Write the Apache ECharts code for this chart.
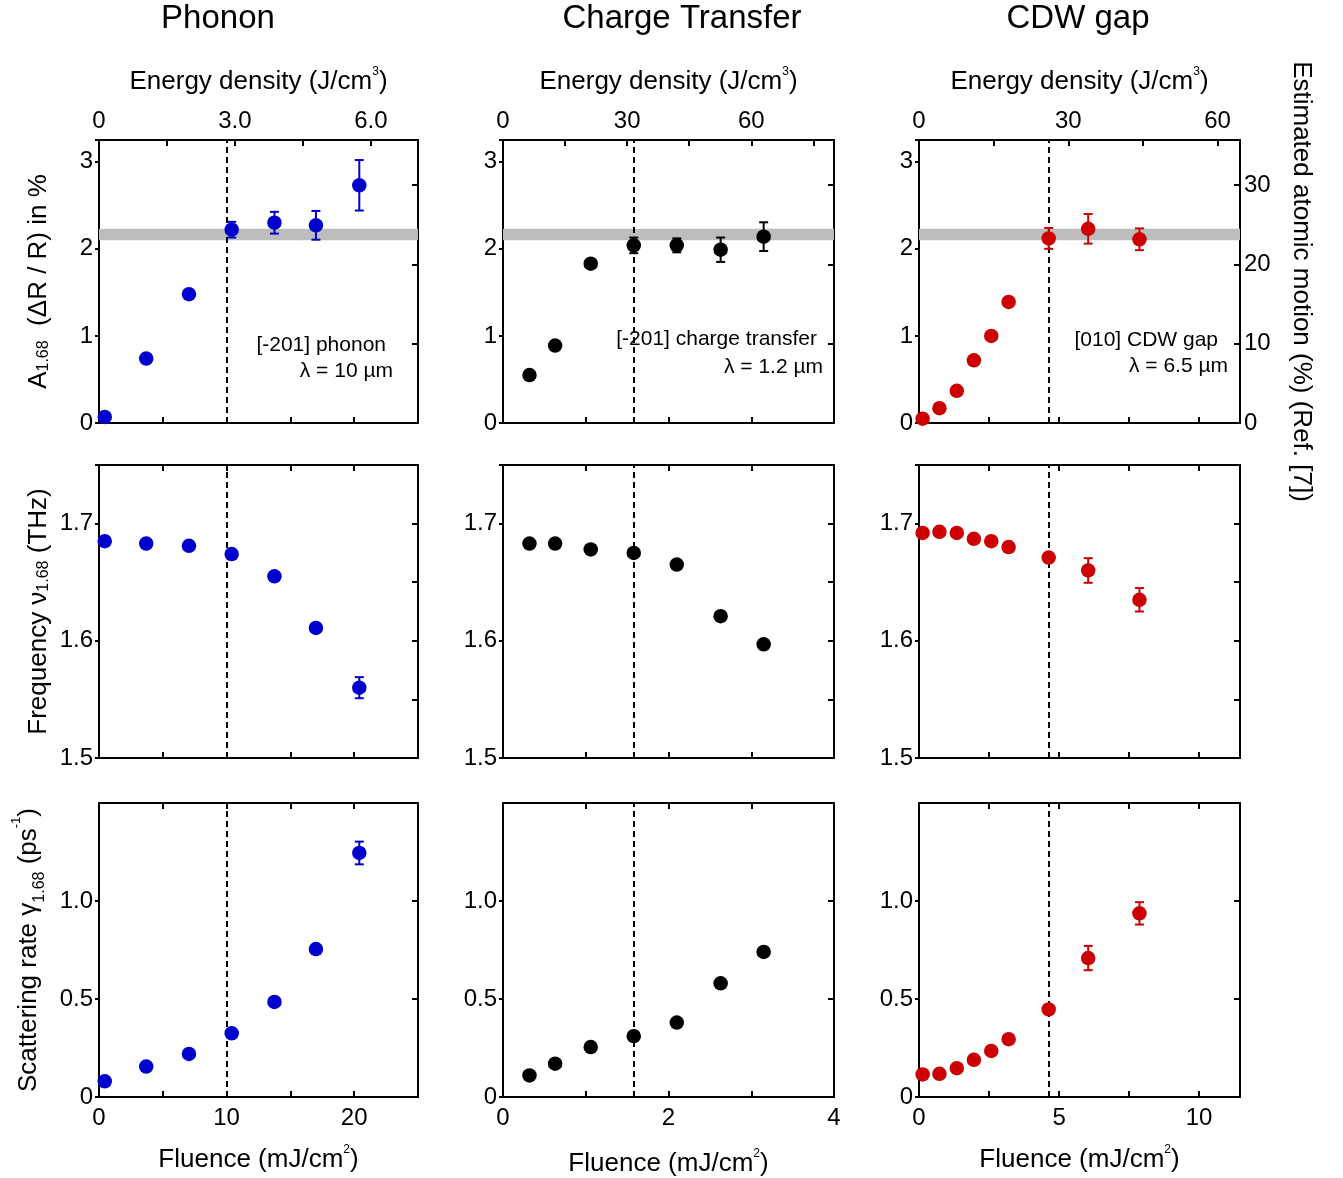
<!DOCTYPE html>
<html>
<head>
<meta charset="utf-8">
<script src="https://cdn.jsdelivr.net/npm/echarts@6/dist/echarts.min.js"></script>
<style>
html,body{margin:0;padding:0;background:#fff;}
#chart{width:1343px;height:1178px;}
</style>
</head>
<body>
<div id="chart"></div>
<script>
// ---------------- DATA ----------------
const columnTitles = ['Phonon', 'Charge Transfer', 'CDW gap'];
const sampleLabels = ['[-201] phonon', '[-201] charge transfer', '[010] CDW gap'];
const wavelengthLabels = ['λ = 10 µm', 'λ = 1.2 µm', 'λ = 6.5 µm'];

// Phonon (blue)
const fluencePhonon = [0.45, 3.7, 7.05, 10.4, 13.75, 17.0, 20.4];
const ampPhonon     = [0.07, 0.74, 1.48, 2.22, 2.30, 2.27, 2.73];
const ampPhononErr  = [0, 0, 0, 0.09, 0.125, 0.165, 0.29];
const freqPhonon    = [1.685, 1.683, 1.681, 1.674, 1.655, 1.611, 1.560];
const freqPhononErr = [0, 0, 0, 0, 0, 0, 0.009];
const ratePhonon    = [0.08, 0.155, 0.22, 0.325, 0.485, 0.755, 1.245];
const ratePhononErr = [0, 0, 0, 0, 0, 0, 0.058];

// Charge transfer (black)
const fluenceCT = [0.32, 0.63, 1.06, 1.58, 2.10, 2.63, 3.15];
const ampCT     = [0.55, 0.89, 1.83, 2.04, 2.04, 1.99, 2.14];
const ampCTErr  = [0, 0, 0, 0.09, 0.08, 0.14, 0.165];
const freqCT    = [1.683, 1.683, 1.678, 1.675, 1.665, 1.621, 1.597];
const freqCTErr = [0, 0, 0, 0, 0, 0, 0];
const rateCT    = [0.11, 0.17, 0.255, 0.31, 0.38, 0.58, 0.74];
const rateCTErr = [0, 0, 0, 0, 0, 0, 0];

// CDW gap (red)
const fluenceCDW = [0.13, 0.73, 1.35, 1.96, 2.58, 3.20, 4.63, 6.04, 7.87];
const ampCDW     = [0.05, 0.17, 0.37, 0.72, 1.00, 1.39, 2.12, 2.23, 2.11];
const ampCDWErr  = [0, 0, 0, 0, 0, 0, 0.12, 0.17, 0.125];
const freqCDW    = [1.692, 1.693, 1.692, 1.687, 1.685, 1.680, 1.671, 1.660, 1.635];
const freqCDWErr = [0, 0, 0, 0, 0, 0, 0, 0.0105, 0.01];
const rateCDW    = [0.115, 0.118, 0.147, 0.19, 0.235, 0.295, 0.447, 0.709, 0.937];
const rateCDWErr = [0, 0, 0, 0, 0, 0, 0, 0.062, 0.057];

const thresholdFluence = [10.0, 1.58, 4.64];
const saturationBand = [2.10, 2.23];

// axis ranges / ticks
const fluenceMax = [25, 4, 11.46];
const fluenceTickStep = [5, 1, 2.5];
const fluenceLabelStep = [10, 2, 5];
const energyMax = [7.04, 80, 64.5];
const energyTickStep = [1.5, 15, 15];
const energyLabelStep = [3, 30, 30];
const rowMin = [0, 1.5, 0];
const rowMax = [3.25, 1.75, 1.5];
const rowLabelStep = [1, 0.1, 0.5];
const rowRightStep = [10, 0.05, 0.5];
const motionMax = 35.7;

// ---------------- LAYOUT / STYLE ----------------
const FONT = 'Liberation Sans, Arial, Helvetica, sans-serif';
const BLUE = '#0000cc', BLACK = '#000000', RED = '#cc0000';
const colColors = [BLUE, BLACK, RED];
const GRID_L = [99, 503, 919], GRID_W = [319, 331, 321];
const GRID_T = [140, 465, 803], GRID_H = [283, 293, 294];
const TICK_FS = 24, NAME_FS = 26;

const colData = [
  {x: fluencePhonon, y: [ampPhonon, freqPhonon, ratePhonon], e: [ampPhononErr, freqPhononErr, ratePhononErr]},
  {x: fluenceCT, y: [ampCT, freqCT, rateCT], e: [ampCTErr, freqCTErr, rateCTErr]},
  {x: fluenceCDW, y: [ampCDW, freqCDW, rateCDW], e: [ampCDWErr, freqCDWErr, rateCDWErr]}
];

function isMult(v, step) { const r = v / step; return Math.abs(r - Math.round(r)) < 1e-6; }

const grids = [], xAxes = [], yAxes = [], series = [];
const axisLineStyle = {show: true, onZero: false, lineStyle: {color: '#000', width: 2}};
const labelStyle = {color: '#000', fontFamily: FONT, fontSize: TICK_FS};
const supRich = {sup: {fontSize: 12, fontFamily: FONT, color: '#000', verticalAlign: 'top', lineHeight: 32}};

for (let row = 0; row < 3; row++) {
  for (let col = 0; col < 3; col++) {
    const gi = row * 3 + col;
    grids.push({left: GRID_L[col], top: GRID_T[row], width: GRID_W[col], height: GRID_H[row], containLabel: false, show: false});

    // bottom x axis (fluence)
    const fStep = fluenceTickStep[col], fLab = fluenceLabelStep[col];
    xAxes.push({
      type: 'value', gridIndex: gi, position: 'bottom', min: 0, max: fluenceMax[col], interval: fStep,
      axisLine: axisLineStyle, splitLine: {show: false},
      axisTick: {show: true, inside: true, length: 6, lineStyle: {width: 2, color: '#000'}},
      axisLabel: row === 2 ? Object.assign({show: true, margin: 9, showMaxLabel: true,
        formatter: v => isMult(v, fLab) ? String(Math.round(v)) : ''}, labelStyle) : {show: false},
      name: row === 2 ? 'Fluence (mJ/cm{sup|2})' : '',
      nameLocation: 'middle', nameGap: col === 1 ? 51 : 47,
      nameTextStyle: {color: '#000', fontFamily: FONT, fontSize: NAME_FS, rich: supRich}
    });
    // top x axis
    if (row === 0) {
      const eLab = energyLabelStep[col];
      xAxes.push({
        type: 'value', gridIndex: gi, position: 'top', min: 0, max: energyMax[col], interval: energyTickStep[col],
        axisLine: axisLineStyle, splitLine: {show: false},
        axisTick: {show: true, inside: true, length: 6, lineStyle: {width: 2, color: '#000'}},
        axisLabel: Object.assign({show: true, margin: 7,
          formatter: v => (Math.abs(v) < 1e-9) ? '0' : (isMult(v, eLab) ? (col === 0 ? v.toFixed(1) : String(Math.round(v))) : '')}, labelStyle),
        name: 'Energy density (J/cm{sup|3})', nameLocation: 'middle', nameGap: 42,
        nameTextStyle: {color: '#000', fontFamily: FONT, fontSize: NAME_FS, rich: supRich}
      });
    } else {
      xAxes.push({
        type: 'value', gridIndex: gi, position: 'top', min: 0, max: fluenceMax[col], interval: fStep,
        axisLine: axisLineStyle, splitLine: {show: false},
        axisTick: {show: true, inside: true, length: 6, lineStyle: {width: 2, color: '#000'}},
        axisLabel: {show: false}
      });
    }

    // left y axis
    const yLab = rowLabelStep[row];
    let yName = '';
    if (col === 0) {
      yName = ['A{sub|1.68}  (ΔR / R) in %', 'Frequency ν{sub|1.68} (THz)', 'Scattering rate γ{sub|1.68} (ps{sup|-1})'][row];
    }
    yAxes.push({
      type: 'value', gridIndex: gi, position: 'left', min: rowMin[row], max: rowMax[row], interval: yLab,
      axisLine: axisLineStyle, splitLine: {show: false},
      axisTick: {show: true, inside: false, length: 4, lineStyle: {width: 2, color: '#000'}},
      axisLabel: Object.assign({show: true, margin: 6, showMaxLabel: row === 2 ? false : true,
        formatter: v => {
          if (row === 0) return isMult(v, 1) ? String(Math.round(v)) : '';
          if (row === 1) return isMult(v, 0.1) ? v.toFixed(1) : '';
          return Math.abs(v) < 1e-9 ? '0' : (isMult(v, 0.5) ? v.toFixed(1) : '');
        }}, labelStyle),
      name: yName, nameLocation: 'middle', nameRotate: 90, nameGap: row === 2 ? 51 : 47,
      nameTextStyle: {color: '#000', fontFamily: FONT, fontSize: NAME_FS,
        rich: {sub: {fontSize: 16, fontFamily: FONT, color: '#000', verticalAlign: 'bottom', lineHeight: 27},
               sup: {fontSize: 13, fontFamily: FONT, color: '#000', verticalAlign: 'top', lineHeight: 38}}}
    });
    // right y axis
    if (row === 0) {
      yAxes.push({
        type: 'value', gridIndex: gi, position: 'right', min: 0, max: motionMax, interval: rowRightStep[row],
        axisLine: axisLineStyle, splitLine: {show: false},
        axisTick: {show: true, inside: true, length: 6, lineStyle: {width: 2, color: '#000'}},
        axisLabel: col === 2 ? Object.assign({show: true, margin: 4, showMaxLabel: false,
          formatter: v => isMult(v, 10) ? String(Math.round(v)) : ''}, labelStyle) : {show: false},
        name: col === 2 ? 'Estimated atomic motion (%) (Ref. [7])' : '',
        nameLocation: 'middle', nameRotate: -90, nameGap: 48,
        nameTextStyle: {color: '#000', fontFamily: FONT, fontSize: NAME_FS}
      });
    } else {
      yAxes.push({
        type: 'value', gridIndex: gi, position: 'right', min: rowMin[row], max: rowMax[row], interval: rowRightStep[row],
        axisLine: axisLineStyle, splitLine: {show: false},
        axisTick: {show: true, inside: true, length: 6, lineStyle: {width: 2, color: '#000'}},
        axisLabel: {show: false}
      });
    }

    const d = colData[col];
    const pts = d.x.map((x, i) => [x, d.y[row][i]]);
    const errPts = d.x.map((x, i) => [x, d.y[row][i], d.e[row][i]]);
    const color = colColors[col];

    const scatter = {
      type: 'scatter', xAxisIndex: gi * 2, yAxisIndex: gi * 2, data: pts,
      symbol: 'circle', symbolSize: 14.5, itemStyle: {color: color, opacity: 1}, z: 5, silent: true,
      markLine: {
        silent: true, symbol: ['none', 'none'], label: {show: false},
        lineStyle: {type: [6, 4], color: '#000', width: 2},
        data: [{xAxis: thresholdFluence[col]}], z: 3
      }
    };
    if (row === 0) {
      scatter.markArea = {
        silent: true, itemStyle: {color: '#bdbdbd', opacity: 1},
        data: [[{yAxis: saturationBand[0]}, {yAxis: saturationBand[1]}]], z: 1
      };
    }
    series.push(scatter);

    series.push({
      type: 'custom', xAxisIndex: gi * 2, yAxisIndex: gi * 2, data: errPts, z: 4, silent: true,
      encode: {x: 0, y: 1},
      renderItem: function (params, api) {
        const x = api.value(0), y = api.value(1), e = api.value(2);
        if (!e) return null;
        const top = api.coord([x, y + e]), bot = api.coord([x, y - e]);
        const w = 4.5;
        const st = {stroke: color, lineWidth: 2};
        return {
          type: 'group', children: [
            {type: 'line', shape: {x1: top[0], y1: top[1], x2: bot[0], y2: bot[1]}, style: st},
            {type: 'line', shape: {x1: top[0] - w, y1: top[1], x2: top[0] + w, y2: top[1]}, style: st},
            {type: 'line', shape: {x1: bot[0] - w, y1: bot[1], x2: bot[0] + w, y2: bot[1]}, style: st}
          ]
        };
      }
    });
  }
}

// ---------------- TEXT ----------------
const graphics = [];
const titleX = [218, 682, 1078];
columnTitles.forEach((t, i) => graphics.push({
  type: 'text', x: titleX[i], y: 19,
  style: {text: t, font: '33px ' + FONT, fill: '#000', align: 'center', verticalAlign: 'middle'}
}));
const annoRight1 = [386, 817, 1218], annoY1 = [345, 339, 340];
const annoRight2 = [393, 823, 1228], annoY2 = [371, 367, 366];
for (let c = 0; c < 3; c++) {
  graphics.push({type: 'text', x: annoRight1[c], y: annoY1[c],
    style: {text: sampleLabels[c], font: '21px ' + FONT, fill: '#000', align: 'right', verticalAlign: 'middle'}});
  graphics.push({type: 'text', x: annoRight2[c], y: annoY2[c],
    style: {text: wavelengthLabels[c], font: '21px ' + FONT, fill: '#000', align: 'right', verticalAlign: 'middle'}});
}

const chart = echarts.init(document.getElementById('chart'), null, {renderer: 'canvas'});
chart.setOption({
  animation: false,
  backgroundColor: '#fff',
  grid: grids, xAxis: xAxes, yAxis: yAxes, series: series, graphic: graphics
});
</script>
</body>
</html>
